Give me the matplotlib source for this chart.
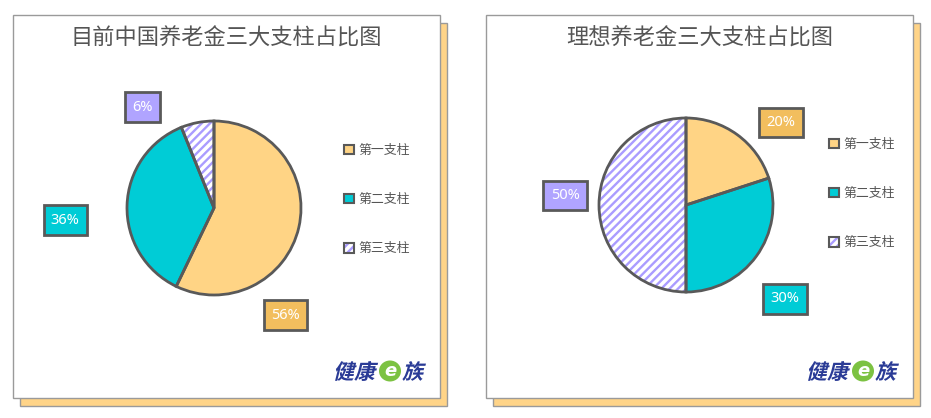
import matplotlib.pyplot as plt
from matplotlib.patches import Rectangle, Patch, Ellipse, PathPatch
from matplotlib.legend_handler import HandlerTuple
from matplotlib.textpath import TextPath
from matplotlib.font_manager import FontProperties
from matplotlib.transforms import Affine2D

plt.rcParams['font.family'] = ['Noto Sans CJK SC', 'DejaVu Sans']
plt.rcParams['hatch.linewidth'] = 1.7

# data
categories = ['第一支柱', '第二支柱', '第三支柱']
current_share = [56, 36, 6]
ideal_share = [20, 30, 50]
titles = ['目前中国养老金三大支柱占比图', '理想养老金三大支柱占比图']

slice_colors = ['#FFD485', '#00CCD6', 'white']
box_colors = ['#F2BE5E', '#00CCD6', '#B0A4FF']
hatch_color = '#AA9CFF'
edge = '#595959'

W, H = 931, 418
fig = plt.figure(figsize=(W / 100, H / 100), dpi=100)
bg = fig.add_axes([0, 0, 1, 1])
bg.set_xlim(0, W)
bg.set_ylim(H, 0)
bg.axis('off')

panels = [(13, 15), (486, 15)]
pw, ph = 427, 383
pie_centers = [(214, 208), (686, 205)]
R = 87
# label box offsets (in pie radius units)
label_pos = [[(0.82, -1.23), (-1.71, -0.14), (-0.82, 1.16)],
             [(1.09, 0.95), (1.14, -1.08), (-1.39, 0.11)]]
legend_anchor = [(344, 144), (829, 138)]

fp = FontProperties(family='Noto Sans CJK SC', weight='bold')


def logo(x, y):
    for txt, dx in [('健康', 0), ('族', 69)]:
        tp = TextPath((0, 0), txt, size=21, prop=fp)
        tr = Affine2D().skew_deg(14, 0).scale(1, -1).translate(x + dx, y) + bg.transData
        bg.add_patch(PathPatch(tp, transform=tr, fc='#2A3B96', ec='none', zorder=3))
    bg.add_patch(Ellipse((x + 57, y - 8), 22, 21, fc='#7CC242', ec='none', zorder=3))
    bg.text(x + 57, y - 8, 'e', color='white', fontsize=13, fontweight='bold',
            fontstyle='italic', family='DejaVu Sans', ha='center', va='center', zorder=4)


for i, (shares, title) in enumerate([(current_share, titles[0]), (ideal_share, titles[1])]):
    px, py = panels[i]
    bg.add_patch(Rectangle((px + 7, py + 8), pw, ph, fc='#FFD488', ec='#9A9A9A', lw=1, zorder=1))
    bg.add_patch(Rectangle((px, py), pw, ph, fc='white', ec='#9A9A9A', lw=1, zorder=2))
    bg.text(px + pw / 2, 38, title, fontsize=16, color='#555555', ha='center', va='center', zorder=3)
    logo(px + 320, 379)

    cx, cy = pie_centers[i]
    aw, ah = 420, 320
    ax = fig.add_axes([(cx - aw / 2) / W, (H - cy - ah / 2) / H, aw / W, ah / H])
    ax.set_zorder(5)
    wedges, _ = ax.pie(shares, colors=slice_colors, startangle=90, counterclock=False,
                       radius=1, wedgeprops=dict(lw=0))
    wedges[2].set_hatch('////')
    wedges[2].set_edgecolor(hatch_color)
    outline, _ = ax.pie(shares, colors=['none'] * 3, startangle=90, counterclock=False,
                        radius=1, wedgeprops=dict(lw=2, edgecolor=edge))
    for w in outline:
        w.set_facecolor('none')
    ax.set_xlim(-aw / 2 / R, aw / 2 / R)
    ax.set_ylim(-ah / 2 / R, ah / 2 / R)
    ax.axis('off')

    for j, v in enumerate(shares):
        lx, ly = label_pos[i][j]
        ax.text(lx, ly, f'{v}%', fontsize=10.5, color='white', family='Noto Sans',
                ha='center', va='center',
                bbox=dict(boxstyle='square,pad=0.5', fc=box_colors[j], ec=edge, lw=2))

    handles = [Patch(fc=slice_colors[0], ec=edge, lw=1.5),
               Patch(fc=slice_colors[1], ec=edge, lw=1.5),
               (Patch(fc='white', ec=hatch_color, hatch='////', lw=0),
                Patch(fc='none', ec=edge, lw=1.5))]
    fig.legend(handles, categories, loc='upper left', bbox_to_anchor=legend_anchor[i],
               bbox_transform=bg.transData, frameon=False, fontsize=9.3,
               labelcolor='#555555', handlelength=0.75, handleheight=0.75,
               handletextpad=0.35, labelspacing=2.8, borderpad=0, borderaxespad=0,
               handler_map={tuple: HandlerTuple(ndivide=1)})

fig.savefig('out.png', dpi=100, facecolor='white')
